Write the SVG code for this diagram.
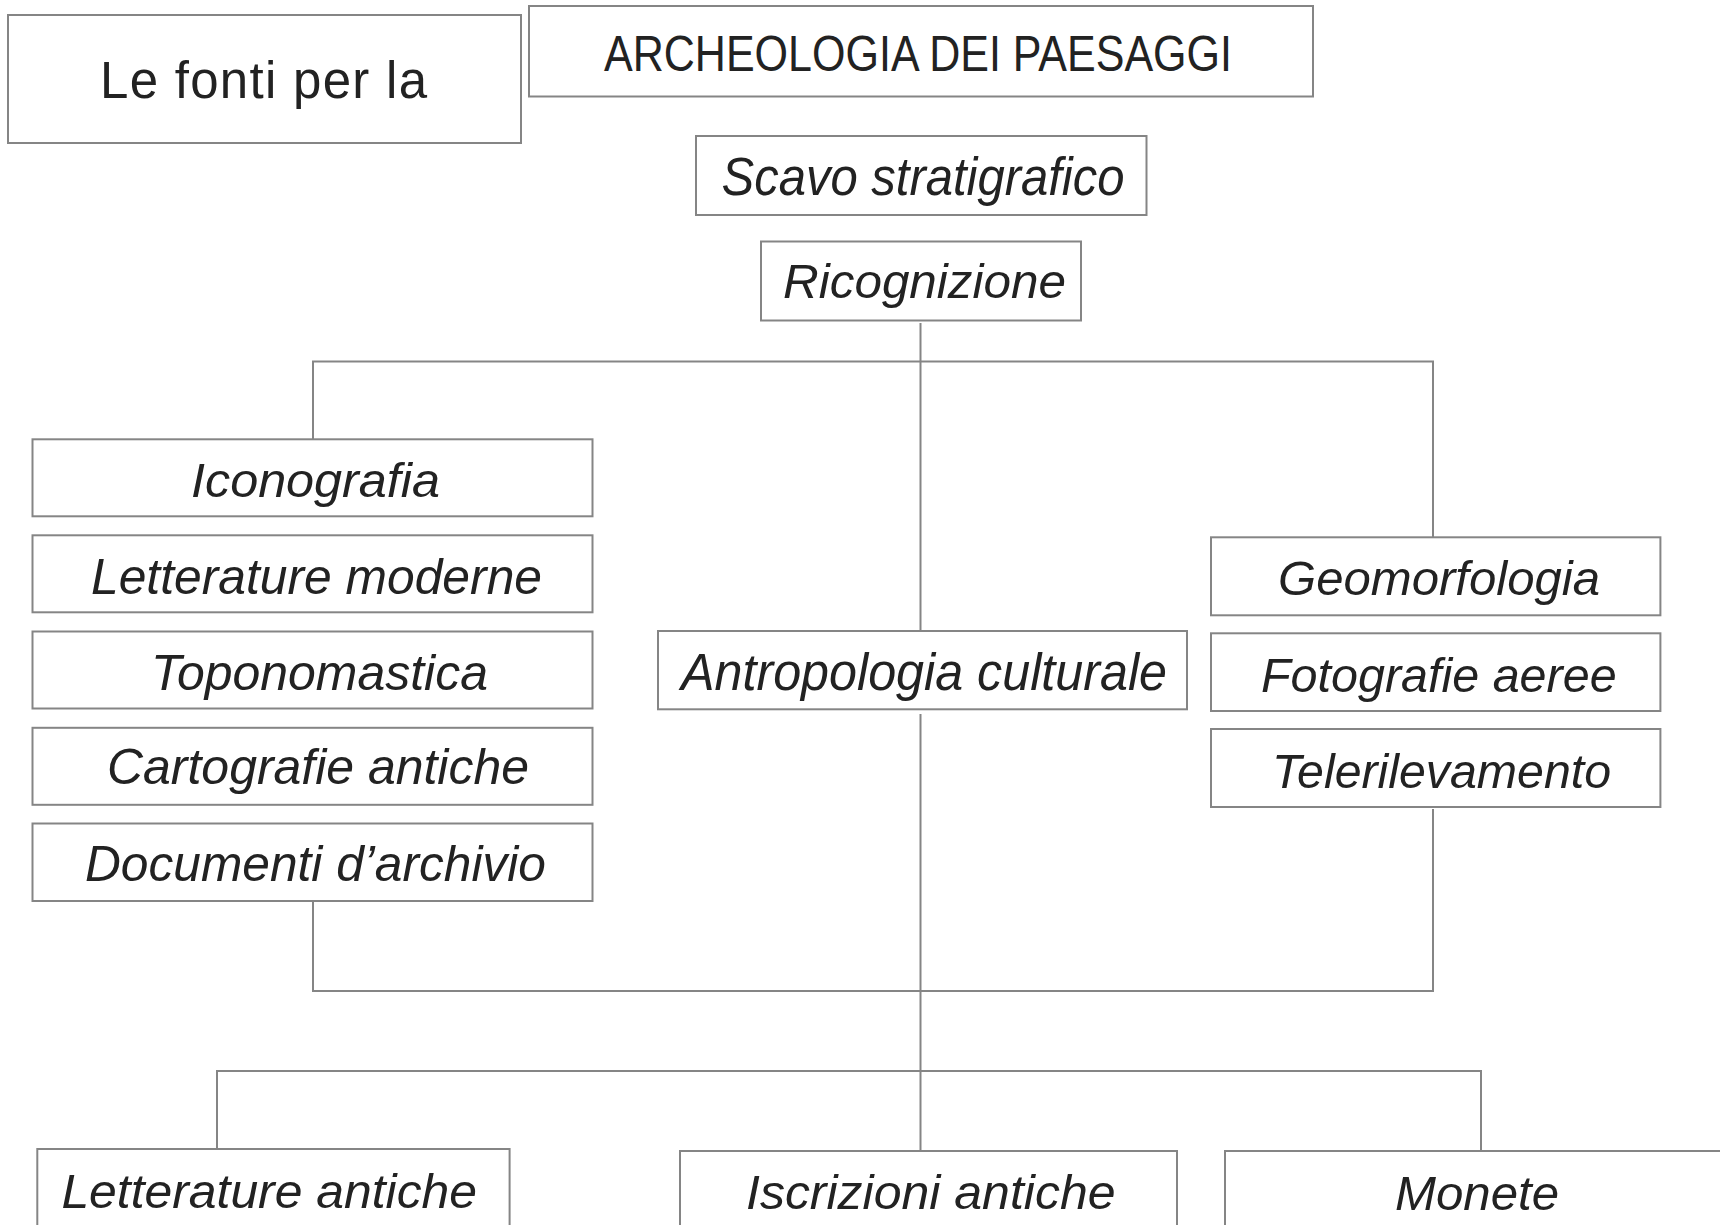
<svg xmlns="http://www.w3.org/2000/svg" width="1720" height="1225" viewBox="0 0 1720 1225">
<style>
.box{fill:#fff;stroke:#858585;stroke-width:2}
.conn{fill:none;stroke:#858585;stroke-width:2}
.t{fill:#222;font-family:"Liberation Sans",Arial,sans-serif}
.i{font-style:italic}
</style>
<rect width="1720" height="1225" fill="#fff"/>
<g id="connectors">
<path class="conn" d="M920.5 323 V632"/>
<path class="conn" d="M313 439 V361.5 H1433 V537"/>
<path class="conn" d="M920.5 714 V1150"/>
<path class="conn" d="M313 902 V991 H1433 V809"/>
<path class="conn" d="M217 1150 V1071 H1481 V1151"/>
</g>
<g id="n-fonti"><rect class="box" x="8" y="15" width="513" height="128"/><text class="t" x="100" y="98" font-size="51" textLength="327" lengthAdjust="spacing">Le fonti per la</text></g>
<g id="n-archeologia"><rect class="box" x="529" y="6" width="784" height="90.5"/><text class="t" x="604" y="70.5" font-size="50" textLength="628" lengthAdjust="spacingAndGlyphs">ARCHEOLOGIA DEI PAESAGGI</text></g>
<g id="n-scavo"><rect class="box" x="696" y="136" width="450.5" height="79"/><text class="t i" x="721.5" y="195" font-size="53" textLength="403" lengthAdjust="spacingAndGlyphs">Scavo stratigrafico</text></g>
<g id="n-ricognizione"><rect class="box" x="761" y="241.5" width="320" height="79"/><text class="t i" x="783" y="298.3" font-size="49" textLength="283" lengthAdjust="spacingAndGlyphs">Ricognizione</text></g>
<g id="n-iconografia"><rect class="box" x="32.5" y="439.3" width="560" height="77"/><text class="t i" x="191" y="497.4" font-size="49" textLength="249" lengthAdjust="spacingAndGlyphs">Iconografia</text></g>
<g id="n-letmoderne"><rect class="box" x="32.5" y="535.3" width="560" height="77"/><text class="t i" x="91" y="594.4" font-size="50" textLength="451" lengthAdjust="spacingAndGlyphs">Letterature moderne</text></g>
<g id="n-toponomastica"><rect class="box" x="32.5" y="631.5" width="560" height="77"/><text class="t i" x="151" y="690" font-size="50" textLength="337" lengthAdjust="spacingAndGlyphs">Toponomastica</text></g>
<g id="n-cartografie"><rect class="box" x="32.5" y="727.8" width="560" height="77"/><text class="t i" x="107" y="784.4" font-size="50" textLength="422" lengthAdjust="spacingAndGlyphs">Cartografie antiche</text></g>
<g id="n-documenti"><rect class="box" x="32.5" y="823.5" width="560" height="77.5"/><text class="t i" x="85" y="880.7" font-size="50" textLength="461" lengthAdjust="spacingAndGlyphs">Documenti d’archivio</text></g>
<g id="n-antropologia"><rect class="box" x="658" y="631" width="529" height="78.3"/><text class="t i" x="681" y="690" font-size="51" textLength="486" lengthAdjust="spacingAndGlyphs">Antropologia culturale</text></g>
<g id="n-geomorfologia"><rect class="box" x="1211" y="537.3" width="449.4" height="78"/><text class="t i" x="1278" y="595" font-size="48" textLength="322" lengthAdjust="spacingAndGlyphs">Geomorfologia</text></g>
<g id="n-fotografie"><rect class="box" x="1211" y="633.3" width="449.4" height="77.7"/><text class="t i" x="1261" y="691.7" font-size="48" textLength="355.6" lengthAdjust="spacingAndGlyphs">Fotografie aeree</text></g>
<g id="n-telerilevamento"><rect class="box" x="1211" y="729" width="449.4" height="78"/><text class="t i" x="1272" y="787.7" font-size="49" textLength="339" lengthAdjust="spacingAndGlyphs">Telerilevamento</text></g>
<g id="n-letantiche"><rect class="box" x="37.3" y="1149" width="472.3" height="100"/><text class="t i" x="61.4" y="1208.3" font-size="49" textLength="415.6" lengthAdjust="spacingAndGlyphs">Letterature antiche</text></g>
<g id="n-iscrizioni"><rect class="box" x="680" y="1151" width="497" height="100"/><text class="t i" x="746" y="1208.5" font-size="49" textLength="369.5" lengthAdjust="spacingAndGlyphs">Iscrizioni antiche</text></g>
<g id="n-monete"><rect class="box" x="1225" y="1151" width="512" height="100"/><text class="t i" x="1395" y="1210" font-size="49" textLength="164" lengthAdjust="spacingAndGlyphs">Monete</text></g>
</svg>
